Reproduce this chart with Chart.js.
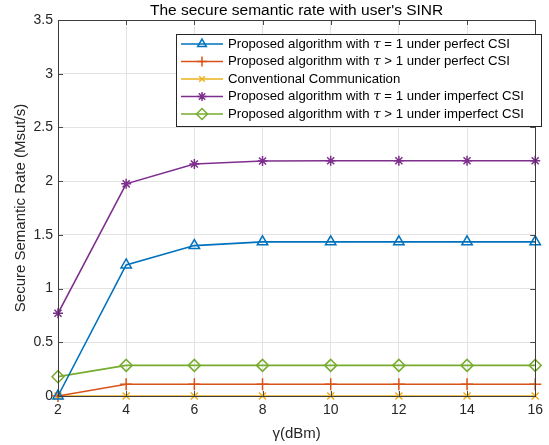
<!DOCTYPE html>
<html>
<head>
<meta charset="utf-8">
<script src="https://cdn.jsdelivr.net/npm/chart.js@4"></script>
<style>
  html, body { margin: 0; padding: 0; background: #fff; }
  #wrap { width: 549px; height: 445px; position: relative; }
</style>
</head>
<body>
<div id="wrap"><canvas id="c" width="549" height="445"></canvas></div>
<script>
// SINR sweep (dBm)
const gammaValues = [2, 4, 6, 8, 10, 12, 14, 16];

// Secure semantic rate (Msut/s) for each scheme
const tau1Perfect   = [0.00, 1.22, 1.40, 1.435, 1.435, 1.435, 1.435, 1.435];
const tauGt1Perfect = [0.00, 0.11, 0.11, 0.11, 0.11, 0.11, 0.11, 0.11];
const conventional  = [0.00, 0.00, 0.00, 0.00, 0.00, 0.00, 0.00, 0.00];
const tau1Imperfect = [0.77, 1.975, 2.16, 2.188, 2.19, 2.19, 2.19, 2.19];
const tauGt1Imperfect = [0.18, 0.285, 0.285, 0.285, 0.285, 0.285, 0.285, 0.285];

const yTicks = [0, 0.5, 1, 1.5, 2, 2.5, 3, 3.5];

const titleText = "The secure semantic rate with user's SINR";
const legendLabels = [
  ['Proposed algorithm with ', '\u03C4', ' = 1 under perfect CSI'],
  ['Proposed algorithm with ', '\u03C4', ' > 1 under perfect CSI'],
  ['Conventional Communication', '', ''],
  ['Proposed algorithm with ', '\u03C4', ' = 1 under imperfect CSI'],
  ['Proposed algorithm with ', '\u03C4', ' > 1 under imperfect CSI']
];

const FONT = '"Liberation Sans", Arial, Helvetica, sans-serif';
const colors = ['#0072BD', '#D95319', '#EDB120', '#7E2F8E', '#77AC30'];
const styles = ['triangle', 'cross', 'crossRot', 'star', 'rectRot'];
const radii = [6, 6, 5, 5, 6];
const legendRadii = [5, 5, 4, 4.5, 5.5];
const series = [tau1Perfect, tauGt1Perfect, conventional, tau1Imperfect, tauGt1Imperfect];

const datasets = series.map((vals, i) => ({
  label: legendLabels[i].join(''),
  data: gammaValues.map((g, k) => ({ x: g, y: vals[k] })),
  borderColor: colors[i],
  backgroundColor: 'rgba(0,0,0,0)',
  pointBorderColor: colors[i],
  pointBackgroundColor: 'rgba(0,0,0,0)',
  pointStyle: styles[i],
  pointRadius: radii[i],
  pointBorderWidth: 1.5,
  borderWidth: 1.6,
  clip: false,
  tension: 0
}));

// Box, inward ticks, title and legend drawn in MATLAB style
const decorPlugin = {
  id: 'decor',
  afterDatasetsDraw(chart) {
    const ctx = chart.ctx;
    const a = chart.chartArea;
    const xs = chart.scales.x, ys = chart.scales.y;
    ctx.save();
    // inward ticks on all four sides
    ctx.strokeStyle = '#4a4a4a';
    ctx.lineWidth = 1;
    const tl = 5;
    ctx.beginPath();
    gammaValues.forEach(g => {
      const px = Math.round(xs.getPixelForValue(g)) + 0.5;
      ctx.moveTo(px, a.bottom); ctx.lineTo(px, a.bottom - tl);
      ctx.moveTo(px, a.top); ctx.lineTo(px, a.top + tl);
    });
    yTicks.forEach(v => {
      const py = Math.round(ys.getPixelForValue(v)) + 0.5;
      ctx.moveTo(a.left, py); ctx.lineTo(a.left + tl, py);
      ctx.moveTo(a.right, py); ctx.lineTo(a.right - tl, py);
    });
    ctx.stroke();
    // axes box
    ctx.strokeStyle = '#3c3c3c';
    ctx.strokeRect(Math.round(a.left) + 0.5, Math.round(a.top) + 0.5,
                   Math.round(a.right - a.left), Math.round(a.bottom - a.top));

    // title
    ctx.fillStyle = '#000';
    ctx.font = '15.5px ' + FONT;
    ctx.textAlign = 'center';
    ctx.textBaseline = 'middle';
    ctx.fillText(titleText, (a.left + a.right) / 2, 11);

    // legend box
    const lx = 176, ly = 34, lw = 365, lh = 92;
    ctx.fillStyle = '#fff';
    ctx.fillRect(lx, ly, lw, lh);
    ctx.strokeStyle = '#262626';
    ctx.lineWidth = 1;
    ctx.strokeRect(lx + 0.5, ly + 0.5, lw, lh);
    const rowH = 17.5;
    legendLabels.forEach((parts, i) => {
      const cy = ly + 10 + i * rowH;
      ctx.strokeStyle = colors[i];
      ctx.lineWidth = 1.6;
      ctx.beginPath();
      ctx.moveTo(lx + 5, cy); ctx.lineTo(lx + 47, cy);
      ctx.stroke();
      ctx.fillStyle = 'rgba(0,0,0,0)';
      ctx.lineWidth = 1.5;
      Chart.helpers.drawPoint(ctx, {
        pointStyle: styles[i], radius: legendRadii[i], borderWidth: 1.5, rotation: 0
      }, lx + 26, cy);
      // label with italic tau
      ctx.fillStyle = '#000';
      ctx.textAlign = 'left';
      ctx.textBaseline = 'middle';
      let tx = lx + 52;
      ctx.font = '13.2px ' + FONT;
      ctx.fillText(parts[0], tx, cy);
      tx += ctx.measureText(parts[0]).width;
      if (parts[1]) {
        ctx.font = 'italic 13.5px "DejaVu Serif", serif';
        ctx.fillText(parts[1], tx, cy);
        tx += ctx.measureText(parts[1]).width;
        ctx.font = '13.2px ' + FONT;
        ctx.fillText(parts[2], tx, cy);
      }
    });
    ctx.restore();
  }
};

new Chart(document.getElementById('c'), {
  type: 'line',
  data: { datasets },
  plugins: [decorPlugin],
  options: {
    responsive: false,
    animation: false,
    devicePixelRatio: 1,
    layout: { padding: { top: 20, right: 8, left: 12, bottom: 2 } },
    plugins: { legend: { display: false }, title: { display: false }, tooltip: { enabled: false } },
    scales: {
      x: {
        type: 'linear', min: 2, max: 16,
        afterBuildTicks(scale) { scale.ticks = gammaValues.map(v => ({ value: v })); },
        afterFit(scale) { scale.height = 47; },
        grid: { color: '#e3e3e3', drawTicks: false, lineWidth: 1 },
        border: { display: false },
        ticks: { color: '#262626', font: { family: FONT, size: 14 }, padding: 6, maxRotation: 0 },
        title: { display: true, text: '\u03B3(dBm)', color: '#262626',
                 font: { family: FONT, size: 15 }, padding: { top: 1, bottom: 0 } }
      },
      y: {
        type: 'linear', min: 0, max: 3.5,
        afterBuildTicks(scale) { scale.ticks = yTicks.map(v => ({ value: v })); },
        afterFit(scale) { scale.width = 46; },
        grid: { color: '#e3e3e3', drawTicks: false, lineWidth: 1 },
        border: { display: false },
        ticks: { color: '#262626', font: { family: FONT, size: 14 }, padding: 5,
                 callback: v => String(v) },
        title: { display: true, text: 'Secure Semantic Rate (Msut/s)', color: '#262626',
                 font: { family: FONT, size: 15 }, padding: { top: 0, bottom: 4 } }
      }
    }
  }
});
</script>
</body>
</html>
